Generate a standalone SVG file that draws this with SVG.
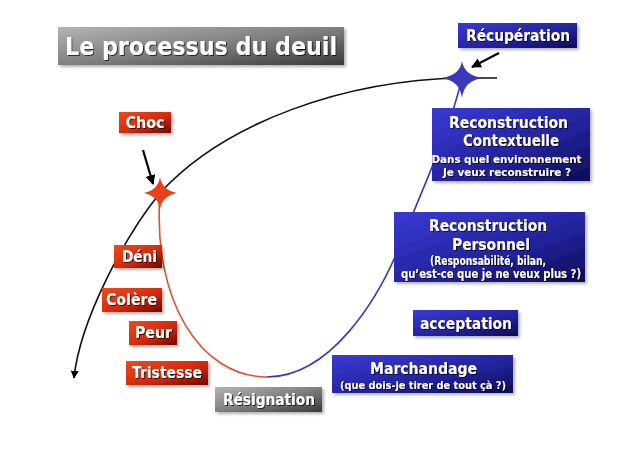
<svg xmlns="http://www.w3.org/2000/svg" width="638" height="451" viewBox="0 0 638 451">
<defs>
<linearGradient id="gBlue" x1="0" y1="0" x2="1" y2="1">
<stop offset="0" stop-color="#3a3ad6"/>
<stop offset="0.6" stop-color="#22229a"/>
<stop offset="1" stop-color="#0c0c55"/>
</linearGradient>
<linearGradient id="gRed" x1="0" y1="0" x2="1" y2="1">
<stop offset="0" stop-color="#f04a1e"/>
<stop offset="0.55" stop-color="#d42a0a"/>
<stop offset="1" stop-color="#6e0800"/>
</linearGradient>
<linearGradient id="gGray" x1="0" y1="0" x2="1" y2="1">
<stop offset="0" stop-color="#b4b4b4"/>
<stop offset="0.5" stop-color="#808080"/>
<stop offset="1" stop-color="#3a3a3a"/>
</linearGradient>
<filter id="sh" x="-10%" y="-20%" width="130%" height="150%">
<feDropShadow dx="2" dy="2" stdDeviation="1.5" flood-color="#000" flood-opacity="0.3"/>
</filter>
<filter id="tsh" x="-5%" y="-20%" width="110%" height="150%">
<feDropShadow dx="1" dy="1" stdDeviation="0.6" flood-color="#000" flood-opacity="0.7"/>
</filter>
<marker id="ah" viewBox="0 0 10 10" refX="9" refY="5" markerWidth="5" markerHeight="5" orient="auto-start-reverse">
<path d="M0,0 L10,5 L0,10 z" fill="#000"/>
</marker>
<marker id="ahBig" viewBox="0 0 10 10" refX="9" refY="5" markerWidth="4.5" markerHeight="4.5" orient="auto">
<path d="M0,0 L10,5 L0,10 z" fill="#000"/>
</marker>
<style>
.lbl{font-family:"DejaVu Sans","Liberation Sans",Verdana,sans-serif;font-weight:bold;fill:#fff;text-anchor:middle;filter:url(#tsh)}
.box{filter:url(#sh)}
.blue{fill:url(#gBlue)}
.red{fill:url(#gRed)}
.gray{fill:url(#gGray)}
</style>
</defs>

<g id="connectors" fill="none">
<path id="curve-black" d="M497,78 L462,78 C345,80 225,122 160,193 C125,236 80,320 74,378" stroke="#111" stroke-width="1.6" marker-end="url(#ah)"/>
<path id="curve-red" d="M160,193 C152,300 200,377 267,377" stroke="#e0502a" stroke-width="1.6"/>
<path id="curve-blue" d="M267,377 C330,377 378,300 400,245 C422,190 450,130 462,78" stroke="#3a3ab8" stroke-width="1.6"/>
<line id="arrow-choc" x1="143" y1="150" x2="153" y2="184" stroke="#000" stroke-width="2.2" marker-end="url(#ahBig)"/>
<line id="arrow-recup" x1="499" y1="53" x2="472" y2="67" stroke="#000" stroke-width="2.2" marker-end="url(#ahBig)"/>
</g>

<g id="star-choc">
<path d="M160,177 Q162,190 177,193 Q162,196 160,209 Q158,196 144,193 Q158,190 160,177 Z" fill="#e8401a"/>
</g>
<g id="star-recup">
<path d="M462,61 Q464,75 482,78 Q464,81 462,98 Q460,81 442,78 Q460,75 462,61 Z" fill="#3838c0"/>
</g>

<g id="title">
<rect class="box gray" x="58" y="27" width="286" height="38"/>
<text class="lbl" x="201" y="55" font-size="25" textLength="272" lengthAdjust="spacingAndGlyphs">Le processus du deuil</text>
</g>

<g id="recuperation">
<rect class="box blue" x="458" y="23" width="119" height="25"/>
<text class="lbl" x="518" y="41" font-size="15.5" textLength="104" lengthAdjust="spacingAndGlyphs">Récupération</text>
</g>

<g id="choc">
<rect class="box red" x="119" y="112" width="52" height="21"/>
<text class="lbl" x="145" y="128" font-size="15" textLength="39" lengthAdjust="spacingAndGlyphs">Choc</text>
</g>

<g id="reconstruction-contextuelle">
<rect class="box blue" x="432" y="108" width="158" height="73"/>
<text class="lbl" x="508.5" y="128" font-size="15.5" textLength="119" lengthAdjust="spacingAndGlyphs">Reconstruction</text>
<text class="lbl" x="511" y="146" font-size="15.5" textLength="96" lengthAdjust="spacingAndGlyphs">Contextuelle</text>
<text class="lbl" x="506.5" y="163" font-size="11" textLength="150" lengthAdjust="spacingAndGlyphs">Dans quel environnement</text>
<text class="lbl" x="507" y="176" font-size="11" textLength="128" lengthAdjust="spacingAndGlyphs">Je veux reconstruire ?</text>
</g>

<g id="reconstruction-personnel">
<rect class="box blue" x="394" y="212" width="191" height="70"/>
<text class="lbl" x="488" y="231" font-size="15.5" textLength="118" lengthAdjust="spacingAndGlyphs">Reconstruction</text>
<text class="lbl" x="491" y="250" font-size="15.5" textLength="78" lengthAdjust="spacingAndGlyphs">Personnel</text>
<text class="lbl" x="488" y="265" font-size="11.5" textLength="116" lengthAdjust="spacingAndGlyphs">(Responsabilité, bilan,</text>
<text class="lbl" x="491" y="278" font-size="11.5" textLength="180" lengthAdjust="spacingAndGlyphs">qu’est-ce que je ne veux plus ?)</text>
</g>

<g id="deni">
<rect class="box red" x="114" y="245" width="48" height="23"/>
<text class="lbl" x="139.5" y="262" font-size="15.5" textLength="35" lengthAdjust="spacingAndGlyphs">Déni</text>
</g>

<g id="colere">
<rect class="box red" x="102" y="288" width="60" height="24"/>
<text class="lbl" x="131.5" y="305" font-size="15.5" textLength="51" lengthAdjust="spacingAndGlyphs">Colère</text>
</g>

<g id="peur">
<rect class="box red" x="129" y="321" width="48" height="24"/>
<text class="lbl" x="153.5" y="338" font-size="15.5" textLength="37" lengthAdjust="spacingAndGlyphs">Peur</text>
</g>

<g id="acceptation">
<rect class="box blue" x="413" y="310" width="105" height="26"/>
<text class="lbl" x="466" y="329" font-size="15.5" textLength="92" lengthAdjust="spacingAndGlyphs">acceptation</text>
</g>

<g id="tristesse">
<rect class="box red" x="126" y="361" width="82" height="24"/>
<text class="lbl" x="167" y="378" font-size="15.5" textLength="70" lengthAdjust="spacingAndGlyphs">Tristesse</text>
</g>

<g id="marchandage">
<rect class="box blue" x="332" y="355" width="181" height="38"/>
<text class="lbl" x="423.5" y="374" font-size="15.5" textLength="107" lengthAdjust="spacingAndGlyphs">Marchandage</text>
<text class="lbl" x="423" y="389" font-size="11" textLength="166" lengthAdjust="spacingAndGlyphs">(que dois-je tirer de tout çà ?)</text>
</g>

<g id="resignation">
<rect class="box gray" x="215" y="387" width="107" height="25"/>
<text class="lbl" x="269" y="405" font-size="15.5" textLength="92" lengthAdjust="spacingAndGlyphs">Résignation</text>
</g>
</svg>
